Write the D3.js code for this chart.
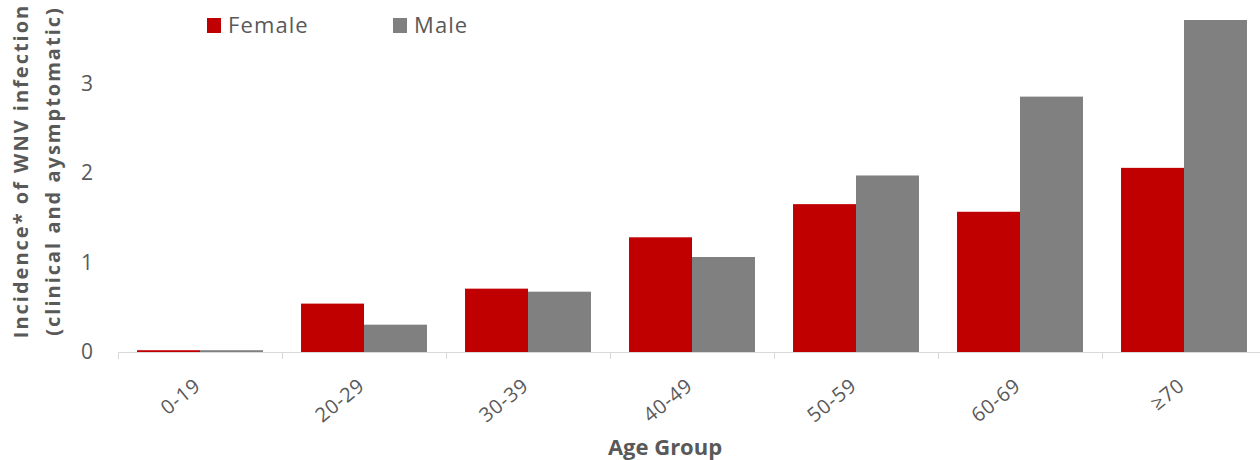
<!DOCTYPE html>
<html>
<head>
<meta charset="utf-8">
<script src="https://cdn.jsdelivr.net/npm/d3@7"></script>
<style>
  html, body { margin: 0; padding: 0; background: #fff; }
  svg { display: block; font-family: "Open Sans", "Liberation Sans", sans-serif; }
</style>
</head>
<body>
<svg id="chart" width="1260" height="460"></svg>
<script>
// Incidence of WNV infection by age group and sex
const ageGroups = ["0-19", "20-29", "30-39", "40-49", "50-59", "60-69", "\u226570"];
const female = [0.02, 0.54, 0.707, 1.28, 1.65, 1.565, 2.055];
const male = [0.02, 0.305, 0.673, 1.06, 1.97, 2.85, 3.705];
const seriesNames = ["Female", "Male"];
const seriesColors = ["#c00000", "#808080"];
const yTicks = [0, 1, 2, 3];

const svg = d3.select("#chart");
const plot = { left: 118, right: 1266, top: 20, bottom: 352 };

const x = d3.scaleBand().domain(ageGroups).range([plot.left, plot.right]).paddingInner(0.232).paddingOuter(0.116);
const xs = d3.scaleBand().domain(seriesNames).range([0, x.bandwidth()]);
const y = d3.scaleLinear().domain([0, 3.705]).range([plot.bottom, plot.top]);

const rows = ageGroups.map((g, i) => ({ group: g, values: [female[i], male[i]] }));

// bars
const groups = svg.append("g").selectAll("g").data(rows).join("g")
  .attr("transform", d => `translate(${x(d.group)},0)`);
groups.selectAll("rect")
  .data(d => d.values.map((v, k) => ({ name: seriesNames[k], value: v, color: seriesColors[k] })))
  .join("rect")
  .attr("x", d => xs(d.name))
  .attr("width", xs.bandwidth())
  .attr("y", d => y(d.value))
  .attr("height", d => y(0) - y(d.value))
  .attr("fill", d => d.color);

// category axis: baseline with ticks at band boundaries
const step = x.step();
const axis = svg.append("g");
axis.append("line")
  .attr("x1", plot.left).attr("x2", plot.right)
  .attr("y1", y(0) + 0.5).attr("y2", y(0) + 0.5)
  .attr("stroke", "#d9d9d9").attr("stroke-width", 1);
axis.selectAll("line.tick").data(d3.range(ageGroups.length + 1)).join("line")
  .attr("class", "tick")
  .attr("x1", i => Math.round(plot.left + i * step) + 0.5)
  .attr("x2", i => Math.round(plot.left + i * step) + 0.5)
  .attr("y1", y(0)).attr("y2", y(0) + 7)
  .attr("stroke", "#d9d9d9");

// rotated category labels
axis.selectAll("text").data(ageGroups).join("text")
  .attr("transform", d => `translate(${x(d) + x.bandwidth() / 2 + 2},${y(0) + 36}) rotate(-39)`)
  .attr("text-anchor", "end")
  .attr("fill", "#595959")
  .attr("font-size", 20)
  .attr("letter-spacing", 0.8)
  .text(d => d);

// value axis labels
svg.append("g").selectAll("text").data(yTicks).join("text")
  .attr("x", 93)
  .attr("y", d => y(d))
  .attr("dy", "0.35em")
  .attr("text-anchor", "end")
  .attr("fill", "#595959")
  .attr("font-size", 21)
  .text(d => d);

// axis titles
const yTitle = svg.append("text")
  .attr("transform", "translate(28,171) rotate(-90)")
  .attr("text-anchor", "middle")
  .attr("fill", "#595959")
  .attr("font-size", 20)
  .attr("font-weight", "bold")
  .attr("letter-spacing", 2);
yTitle.append("tspan").attr("x", 0).attr("y", 0).text("Incidence* of WNV infection");
yTitle.append("tspan").attr("x", 0).attr("y", 32).text("(clinical and aysmptomatic)");

svg.append("text")
  .attr("x", 665).attr("y", 455)
  .attr("text-anchor", "middle")
  .attr("fill", "#595959")
  .attr("font-size", 22)
  .attr("font-weight", "bold")
  .text("Age Group");

// legend
const legendX = [207, 393];
const legend = svg.append("g").selectAll("g").data(seriesNames).join("g")
  .attr("transform", (d, i) => `translate(${legendX[i]},18)`);
legend.append("rect").attr("width", 14).attr("height", 15).attr("fill", (d, i) => seriesColors[i]);
legend.append("text")
  .attr("x", 21).attr("y", 7.5).attr("dy", "0.36em")
  .attr("fill", "#595959")
  .attr("font-size", 22)
  .attr("letter-spacing", 1.1)
  .text(d => d);
</script>
</body>
</html>
